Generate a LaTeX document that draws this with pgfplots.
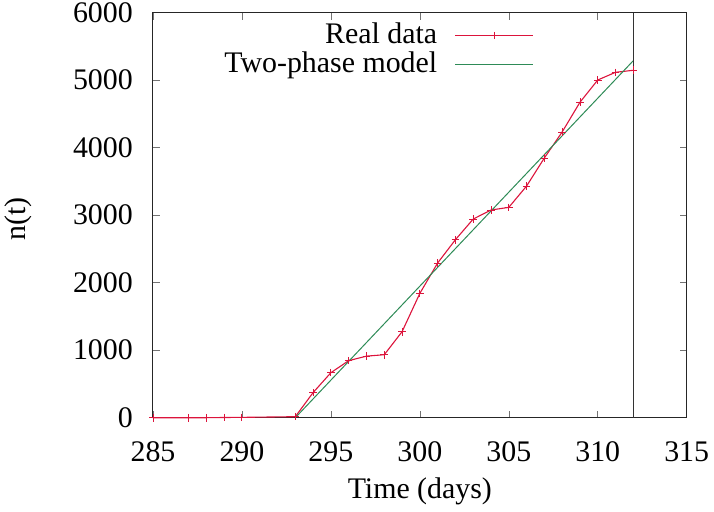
\documentclass[border=0pt]{standalone}
\usepackage{fontspec}
\setmainfont{Liberation Serif}
\usepackage{pgfplots}
\pgfplotsset{compat=1.18}
\definecolor{myred}{RGB}{220,20,60}
\definecolor{mygreen}{RGB}{46,139,87}
\begin{document}
\fontsize{30}{36}\selectfont
\begin{tikzpicture}
\begin{axis}[
  at={(0,0)}, anchor=south west,
  scale only axis, width=533.7bp, height=405bp,
  xmin=285, xmax=315, ymin=0, ymax=6000,
  xtick={285,290,...,315}, ytick={0,1000,...,6000},
  tick align=inside, major tick length=7bp,
  tick style={black!55, line width=0.6bp},
  axis line style={line width=1bp, black!85},
  /pgf/number format/assume math mode=true,
  /pgf/number format/set thousands separator={},
  scaled y ticks=false,
  tick label style={font=\fontsize{30}{36}\selectfont},
  yticklabel style={anchor=east, inner sep=0pt, xshift=-20bp},
  xticklabel style={anchor=north, inner sep=0pt, yshift=-24bp},
  xlabel={Time (days)},
  ylabel={n(t)},
  label style={font=\fontsize{30}{36}\selectfont},
  xlabel style={at={(axis description cs:0.5,0)}, anchor=base, yshift=-81bp},
  ylabel style={at={(axis description cs:0,0.49)}, anchor=center, inner sep=0pt, yshift=135bp},
  clip=false,
  legend cell align=right,
  legend plot pos=right,
  legend style={at={(axis description cs:0.714,0.979)}, anchor=north east,
    draw=none, fill=none, inner sep=0pt, column sep=16bp, row sep=0pt,
    font=\fontsize{30}{36}\selectfont,
    nodes={text height=21bp, text depth=4.5bp, inner sep=1.5bp}},
  legend image code/.code={\draw[mark repeat=2,mark phase=2,#1] plot coordinates {(0bp,0bp) (39bp,0bp) (78bp,0bp)};},
]
\addplot[myred, line width=1.1bp, mark=+, mark size=3.8bp, mark options={myred, line width=0.9bp}, legend image post style={myred}] coordinates {
(285,0) (287,0) (288,0) (289,3) (290,5) (293,15)
(294,372) (295,667) (296,845) (297,912) (298,933)
(299,1274) (300,1842) (301,2292) (302,2637) (303,2943)
(304,3077) (305,3116) (306,3432) (307,3848) (308,4233)
(309,4673) (310,5003) (311,5117) (312,5147)
};
\addlegendentry{Real data}
\addplot[mygreen, line width=1bp] coordinates {(293,0) (312,5290)};
\addlegendentry{Two-phase model}
\addplot[black!80, line width=1bp, forget plot] coordinates {(312,0) (312,6000)};
\end{axis}
\pgfresetboundingbox
\useasboundingbox (-153bp,-94.3bp) rectangle (561bp,417.7bp);
\end{tikzpicture}
\end{document}
